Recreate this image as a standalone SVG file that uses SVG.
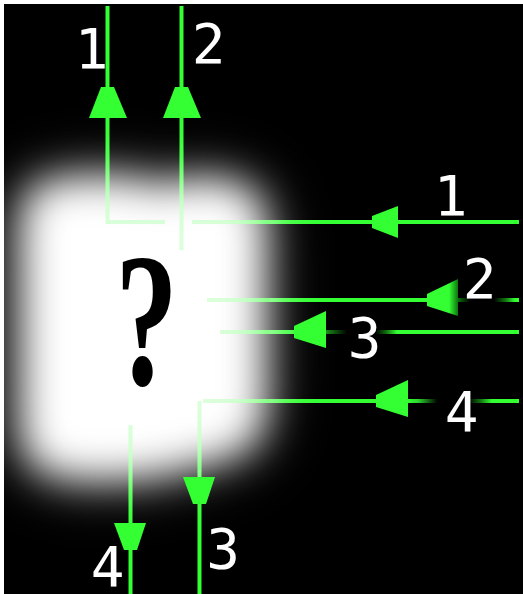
<svg xmlns="http://www.w3.org/2000/svg" width="523" height="594" viewBox="0 0 523 594">
<defs>
<filter id="blur" x="-40%" y="-40%" width="180%" height="180%"><feGaussianBlur stdDeviation="20"/></filter>
<filter id="blur2" x="-50%" y="-50%" width="200%" height="200%"><feGaussianBlur stdDeviation="34"/></filter>
<path id="shape" d="M62,180 Q120,174 150,184 Q170,190 190,180 Q264,176 264,222 L264,410 Q262,446 230,456 L160,474 Q100,482 62,476 Q22,470 22,428 L22,222 Q22,182 62,180 Z"/>
<linearGradient id="g2" gradientUnits="userSpaceOnUse" x1="440" y1="0" x2="515" y2="0">
<stop offset="0" stop-color="#33ff33"/><stop offset="0.12" stop-color="#33ff33"/><stop offset="0.25" stop-color="#0b6a0b"/><stop offset="0.4" stop-color="#000"/><stop offset="0.72" stop-color="#000"/><stop offset="0.88" stop-color="#127a12"/><stop offset="1" stop-color="#33ff33"/>
</linearGradient>
<linearGradient id="g3" gradientUnits="userSpaceOnUse" x1="326" y1="0" x2="397" y2="0">
<stop offset="0" stop-color="#1a8f1a"/><stop offset="0.3" stop-color="#000"/><stop offset="0.7" stop-color="#000"/><stop offset="0.85" stop-color="#107010"/><stop offset="1" stop-color="#33ff33"/>
</linearGradient>
<linearGradient id="g4" gradientUnits="userSpaceOnUse" x1="408" y1="0" x2="492" y2="0">
<stop offset="0" stop-color="#33ff33"/><stop offset="0.12" stop-color="#2bd62b"/><stop offset="0.35" stop-color="#000"/><stop offset="0.72" stop-color="#000"/><stop offset="0.85" stop-color="#0e6a0e"/><stop offset="1" stop-color="#33ff33"/>
</linearGradient>
</defs>
<style>
.ln{stroke:#33ff33;stroke-width:4;fill:none}
.ov{stroke:#33ff33;stroke-width:4;fill:none;opacity:0.18}
.ah{fill:#33ff33}
.lbl{fill:#fff;font-family:"DejaVu Sans Mono",monospace;font-size:56px;text-anchor:middle}
.q{fill:#000;font-family:"Liberation Serif","Times New Roman",serif;font-size:190px;font-weight:bold;text-anchor:middle}
</style>
<rect x="0" y="0" width="523" height="594" fill="#fff"/>
<rect x="4" y="4" width="519" height="590" fill="#000"/>
<g id="connectors">
<path class="ln" d="M107.5,6 V222 H165 M192,222 H519"/>
<path class="ln" d="M181.5,6 V250"/>
<path class="ln" d="M207,300 H440"/>
<path d="M440,300 H519" stroke="url(#g2)" stroke-width="4"/>
<path class="ln" d="M220,332 H326"/>
<path d="M326,332 H397" stroke="url(#g3)" stroke-width="4"/>
<path class="ln" d="M397,332 H519"/>
<path class="ln" d="M203,401 H408"/>
<path d="M408,401 H492" stroke="url(#g4)" stroke-width="4"/>
<path class="ln" d="M492,401 H519"/>
<path class="ln" d="M199.5,401 V594"/>
<path class="ln" d="M130.5,425 V594"/>
</g>
<g id="blob">
<use href="#shape" fill="#fff" opacity="0.35" filter="url(#blur2)"/>
<use href="#shape" fill="#fff" filter="url(#blur)"/>
<path class="ov" d="M107.5,150 V222 H165 M192,222 H270 M181.5,150 V250 M207,300 H270 M220,332 H270 M203,401 H270 M199.5,401 V470 M130.5,425 V500"/>
<text class="q" transform="translate(146.5,384) scale(0.66,1)">?</text>
</g>
<g id="arrowheads">
<polygon class="ah" points="101,87 114,87 127,118 89,118"/>
<polygon class="ah" points="175,87 188,87 201,118 163,118"/>
<polygon class="ah" points="372,216 372,228 398,238 398,206"/>
<polygon fill="url(#g2)" points="427,294 427,306 458,316 458,279"/>
<polygon class="ah" points="294,326 294,338 326,348 326,311"/>
<polygon class="ah" points="376,395 376,407 408,417 408,380"/>
<polygon class="ah" points="114,523 146,523 137,550 124,550"/>
<polygon class="ah" points="183,477 215,477 206,504 193,504"/>
</g>
<g id="labels">
<text class="lbl" x="91.5" y="68">1</text>
<text class="lbl" x="208.5" y="63">2</text>
<text class="lbl" x="450.5" y="215">1</text>
<text class="lbl" x="479.5" y="298">2</text>
<text class="lbl" x="364.5" y="357">3</text>
<text class="lbl" x="461.5" y="431">4</text>
<text class="lbl" x="107.5" y="586">4</text>
<text class="lbl" x="223" y="568">3</text>
</g>
</svg>
